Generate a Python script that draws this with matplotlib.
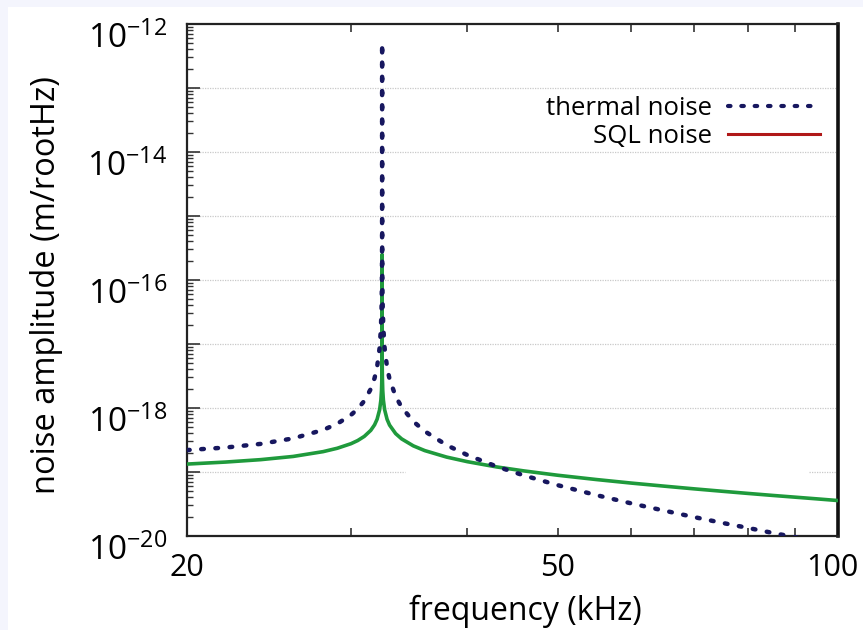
import math
import matplotlib
matplotlib.use("Agg")
import matplotlib.pyplot as plt
import matplotlib.ticker as mticker
import matplotlib.transforms as mtransforms
from matplotlib.lines import Line2D
from matplotlib.patches import Rectangle

plt.rcParams.update({
    "font.family": ["Open Sans", "DejaVu Sans"],
    "mathtext.fontset": "custom",
    "mathtext.rm": "Open Sans",
    "mathtext.it": "Open Sans",
})

# frequency (kHz) and amplitude (m/rootHz)
freq = [20, 22, 24, 26, 28, 29, 30, 30.5, 31, 31.5, 31.8, 32.0, 32.2, 32.3,
        32.35, 32.38, 32.39, 32.395, 32.399, 32.4, 32.401, 32.405, 32.41,
        32.42, 32.45, 32.5, 32.6, 32.8, 33, 33.5, 34, 35, 36, 38, 40, 43,
        46, 50, 55, 60, 65, 70, 75, 80, 85, 90, 95, 100]
thermal = [2.20e-19, 2.41e-19, 2.75e-19, 3.35e-19, 4.54e-19, 5.68e-19,
           7.79e-19, 9.68e-19, 1.29e-18, 1.98e-18, 2.94e-18, 4.39e-18,
           8.72e-18, 1.74e-17, 3.47e-17, 8.67e-17, 1.73e-16, 3.47e-16,
           1.73e-15, 5.0e-13, 1.73e-15, 3.47e-16, 1.73e-16, 8.66e-17,
           3.46e-17, 1.73e-17, 8.61e-18, 4.28e-18, 2.83e-18, 1.52e-18,
           1.03e-18, 6.16e-19, 4.33e-19, 2.63e-19, 1.84e-19, 1.22e-19,
           8.84e-20, 6.23e-20, 4.36e-20, 3.23e-20, 2.50e-20, 1.98e-20,
           1.61e-20, 1.34e-20, 1.12e-20, 9.55e-21, 8.22e-21, 7.14e-21]
sql = [1.33e-19, 1.43e-19, 1.56e-19, 1.75e-19, 2.08e-19, 2.35e-19,
       2.77e-19, 3.10e-19, 3.60e-19, 4.47e-19, 5.46e-19, 6.68e-19,
       9.43e-19, 1.33e-18, 1.88e-18, 2.98e-18, 4.21e-18, 5.96e-18,
       1.33e-17, 2.5e-16, 1.33e-17, 5.96e-18, 4.21e-18, 2.98e-18,
       1.88e-18, 1.33e-18, 9.40e-19, 6.64e-19, 5.41e-19, 3.98e-19,
       3.29e-19, 2.56e-19, 2.16e-19, 1.71e-19, 1.45e-19, 1.20e-19,
       1.04e-19, 8.90e-20, 7.63e-20, 6.71e-20, 6.02e-20, 5.46e-20,
       5.01e-20, 4.63e-20, 4.31e-20, 4.04e-20, 3.80e-20, 3.58e-20]

xticks = [20, 50, 100]
ydecades = [-20, -19, -18, -17, -16, -15, -14, -13, -12]

navy = "#17175f"
green = "#1f9a3c"
red = "#b01818"
dots = (0, (0.6, 2.6))

fig = plt.figure(figsize=(8.63, 6.30), dpi=100, facecolor="#f4f5fd")
fig.patches.append(Rectangle((8 / 863, 0), 1, 1 - 7 / 630, transform=fig.transFigure,
                             facecolor="white", edgecolor="none", zorder=-10))
ax = fig.add_axes([187 / 863, 1 - 536 / 630, 651 / 863, 512 / 630])
ax.set_xscale("log")
ax.set_yscale("log")

ax.plot(freq, sql, color=green, linewidth=2.6, solid_joinstyle="round", zorder=3)
ax.plot(freq, thermal, color=navy, linewidth=3.2, linestyle=dots,
        dash_capstyle="round", zorder=4)

ax.set_xlim(20, 100)
ax.set_ylim(1e-20, 1e-12)

# grid at every decade (the 1e-19 line is broken in the original)
for e in ydecades[1:-1]:
    if e == -19:
        for x0, x1 in [(0, 0.335), (0.955, 1)]:
            ax.plot([x0, x1], [10.0 ** e] * 2, transform=ax.get_yaxis_transform(),
                    color="#c9c9c9", linewidth=0.9, linestyle=(0, (1, 1)), zorder=1)
    else:
        ax.axhline(10.0 ** e, color="#c9c9c9", linewidth=0.9, linestyle=(0, (1, 1)), zorder=1)


def ylabel_fmt(v, pos):
    e = round(math.log10(v))
    return r"$\mathregular{10^{%d}}$" % e if e % 2 == 0 else ""


ax.yaxis.set_major_locator(mticker.FixedLocator([10.0 ** e for e in ydecades]))
ax.yaxis.set_minor_locator(mticker.LogLocator(base=10, subs=range(2, 10), numticks=20))
ax.yaxis.set_major_formatter(mticker.FuncFormatter(ylabel_fmt))
ax.yaxis.set_minor_formatter(mticker.NullFormatter())

ax.xaxis.set_major_locator(mticker.FixedLocator(xticks))
ax.xaxis.set_major_formatter(mticker.FixedFormatter([str(t) for t in xticks]))
ax.xaxis.set_minor_locator(mticker.FixedLocator([30, 40, 60, 70, 80, 90]))
ax.xaxis.set_minor_formatter(mticker.NullFormatter())

ax.tick_params(axis="y", which="both", direction="in", left=True, right=False,
               labelsize=24, pad=14, color="#333333")
ax.tick_params(axis="y", which="major", length=9, width=1.2)
ax.tick_params(axis="y", which="minor", length=4.5, width=1.0)
ax.tick_params(axis="x", which="both", direction="in", bottom=True, top=True,
               labelsize=22, pad=12, color="#333333", length=6, width=1.2)

for lab in ax.get_yticklabels():
    lab.set_transform(lab.get_transform() +
                      mtransforms.ScaledTranslation(0, -11 / 100, fig.dpi_scale_trans))
xlabs = ax.get_xticklabels()
xlabs[-1].set_transform(xlabs[-1].get_transform() +
                        mtransforms.ScaledTranslation(-6 / 100, 0, fig.dpi_scale_trans))

for s in ["left", "bottom", "top"]:
    ax.spines[s].set_linewidth(1.6)
    ax.spines[s].set_color("#222222")
ax.spines["right"].set_linewidth(2.6)
ax.spines["right"].set_color("#111111")

ax.set_xlabel("frequency (kHz)", fontsize=23)
ax.set_ylabel("noise amplitude (m/rootHz)", fontsize=23.5)
ax.xaxis.set_label_coords(0.52, -0.115)
ax.yaxis.set_label_coords(-0.19, 0.49)

handles = [Line2D([], [], color=navy, linewidth=3.0, linestyle=dots,
                  dash_capstyle="round"),
           Line2D([], [], color=red, linewidth=2.2)]
ax.legend(handles, ["thermal noise", "SQL noise"], loc="upper right",
          bbox_to_anchor=(1.008, 0.905), frameon=False, markerfirst=False,
          fontsize=18.5, handlelength=3.6, handletextpad=0.6, labelspacing=0.12)

fig.savefig("out.png", dpi=100, facecolor=fig.get_facecolor())
